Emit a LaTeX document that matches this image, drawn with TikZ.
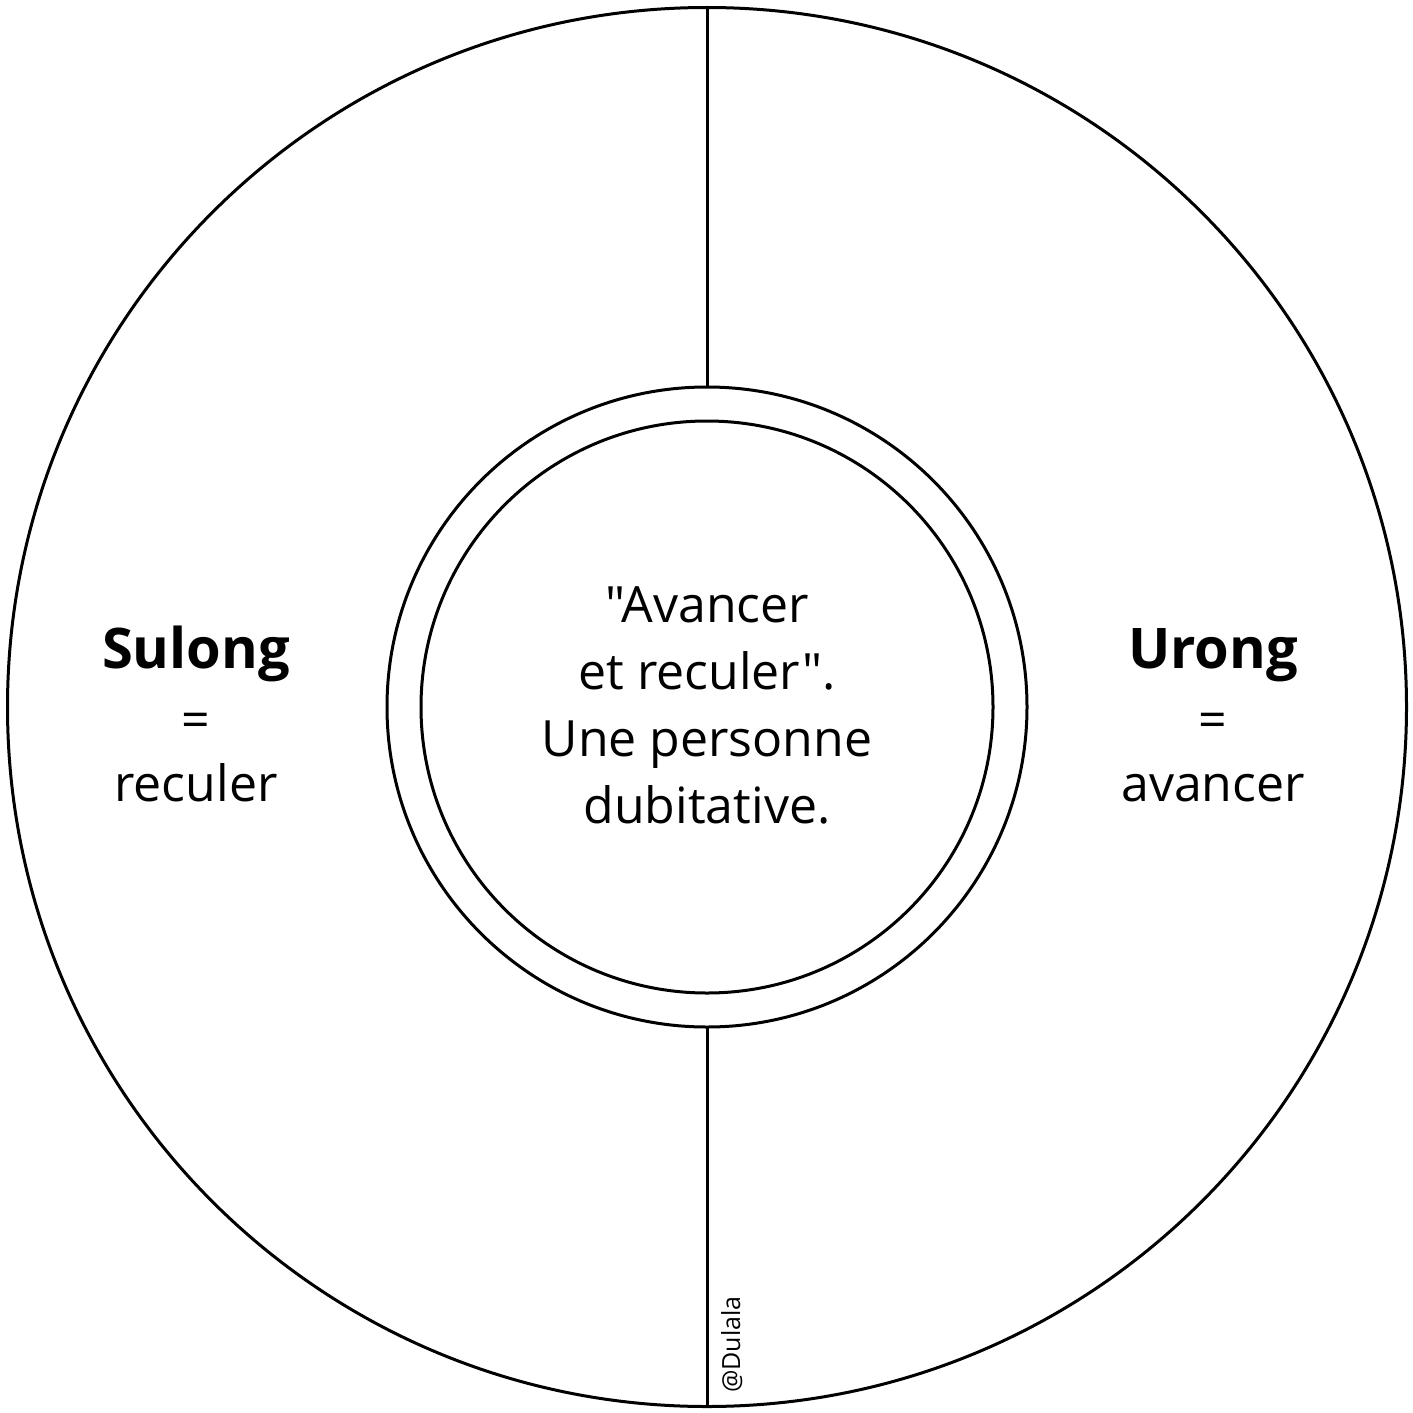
\documentclass[tikz,border=0pt]{standalone}
\usepackage{fontspec}
\setmainfont{Open Sans}[Ligatures=TeXOff]
\begin{document}
\begin{tikzpicture}[x=0.5pt,y=-0.5pt,
  ring/.style={draw=black,line width=1.5pt},
  divider/.style={draw=black,line width=1.5pt},
  side/.style={anchor=base,font=\fontsize{25}{33}\selectfont},
  title/.style={anchor=base,font=\fontsize{28}{34}\selectfont\bfseries},
  centre/.style={align=center,font=\fontsize{25}{33.5}\selectfont}]
  \useasboundingbox (0,0) rectangle (1413,1413);
  \fill[white] (0,0) rectangle (1413,1413);
  % circles
  \coordinate (c) at (707,707);
  \draw[ring] (c) circle[radius=699.5];
  \draw[ring] (c) circle[radius=320];
  \draw[ring] (c) circle[radius=286];
  % vertical dividers
  \coordinate (top) at (707,8);
  \coordinate (ringtop) at (707,387);
  \coordinate (ringbot) at (707,1027);
  \coordinate (bot) at (707,1406);
  \draw[divider] (top) -- (ringtop);
  \draw[divider] (ringbot) -- (bot);
  % left half
  \node[title] (sulong) at (196,668) {Sulong};
  \node[side] (sulongeq) at (196,737) {=};
  \node[side] (sulongdef) at (196,801) {reculer};
  % right half
  \node[title] (urong) at (1213,668) {Urong};
  \node[side] (urongeq) at (1213,737) {=};
  \node[side] (urongdef) at (1213,801) {avancer};
  % centre
  \node[centre] (quote) at (707,705) {"Avancer\\et reculer".\\Une personne\\dubitative.};
  \node[rotate=90,anchor=base west,font=\fontsize{12.5}{14}\selectfont] (sig) at (740,1400) {@Dulala};
\end{tikzpicture}
\end{document}
